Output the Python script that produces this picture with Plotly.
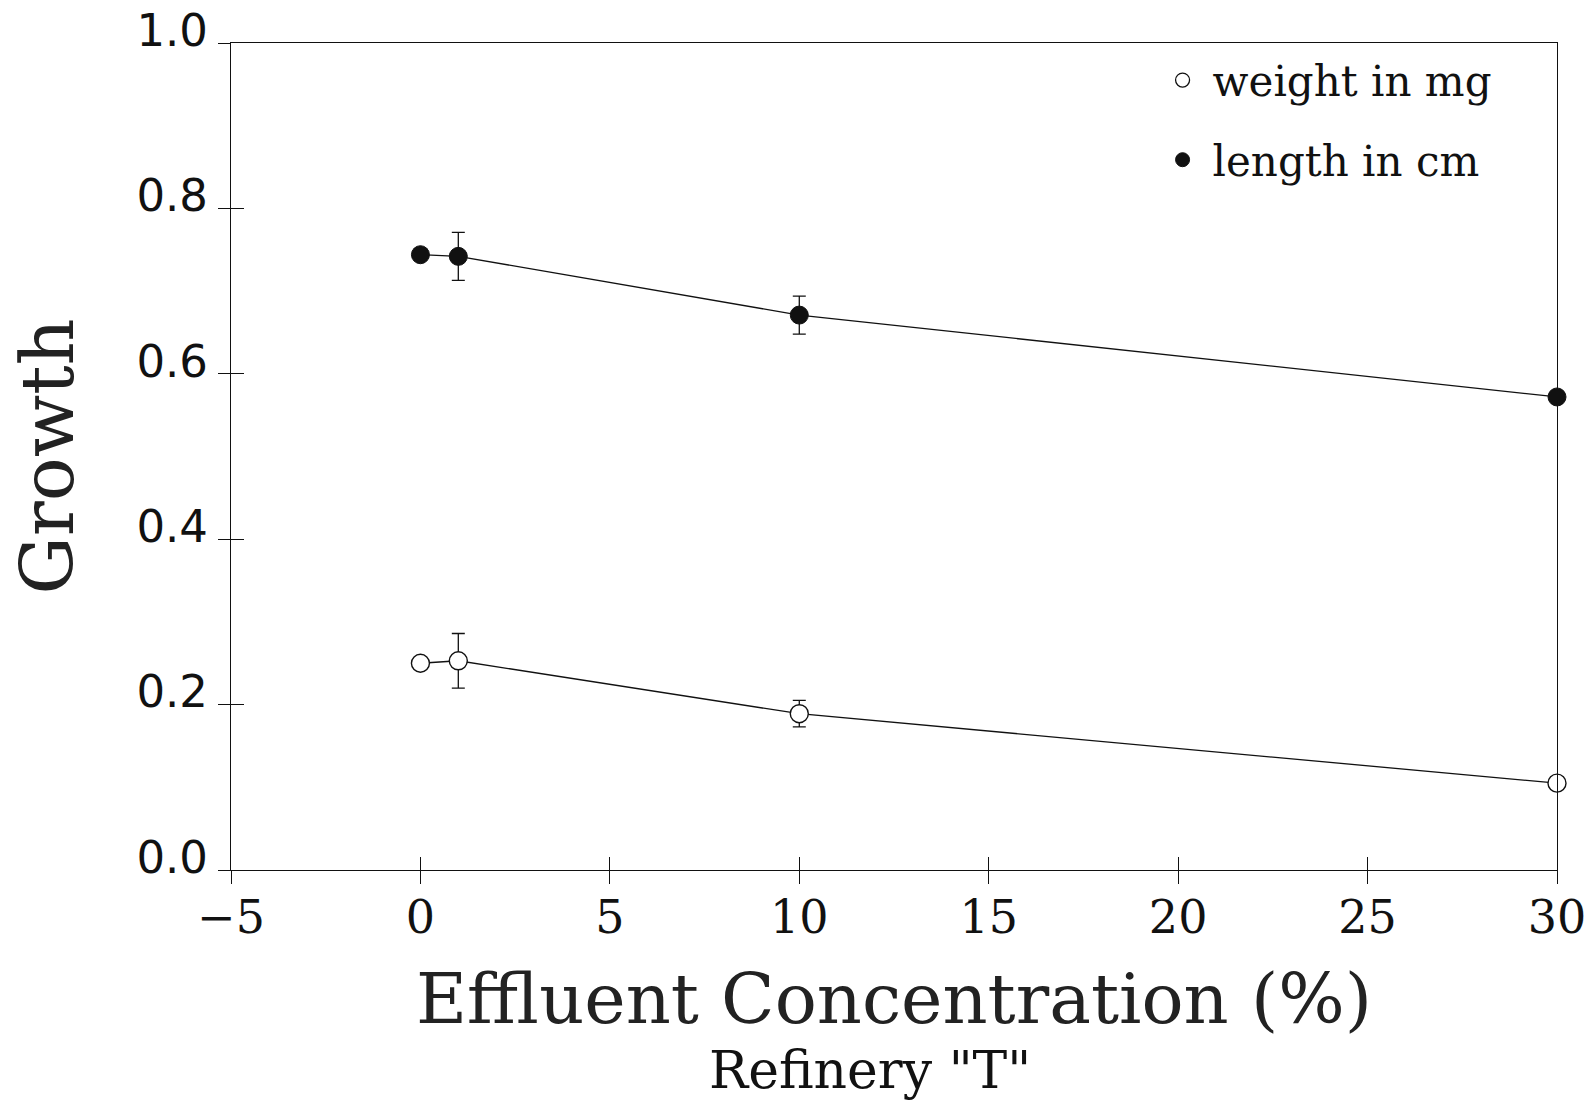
import plotly.graph_objects as go

# ---- data ----
conc = [0, 1, 10, 30]
length_cm = [0.744, 0.742, 0.671, 0.572]
length_err = [0.0, 0.029, 0.023, 0.0]
weight_mg = [0.250, 0.253, 0.189, 0.105]
weight_err = [0.0, 0.033, 0.016, 0.0]

x_ticks = [-5, 0, 5, 10, 15, 20, 25, 30]
y_ticks = [0.0, 0.2, 0.4, 0.6, 0.8, 1.0]

serif = "DejaVu Serif"
ink = "#111111"

# layout geometry (px)
TOP = 18              # paper top
PLOT_H = 827          # height of the framed plot area
PAPER_H = 852         # paper height (a little taller so the top tick label fits)
dom_top = PLOT_H / PAPER_H
label_lift = 13 / PLOT_H   # y tick labels sit slightly above their ticks in the reference
lab_lo = -label_lift
lab_hi = lab_lo + PAPER_H / PLOT_H

fig = go.Figure()

fig.add_trace(go.Scatter(
    x=conc, y=length_cm, mode="lines+markers", name="length in cm",
    line=dict(color=ink, width=1.3),
    marker=dict(symbol="circle", size=18, color=ink, line=dict(color=ink, width=1)),
    error_y=dict(type="data", array=length_err, visible=True, color=ink, thickness=1.3, width=6.5),
    showlegend=False, cliponaxis=False,
))
fig.add_trace(go.Scatter(
    x=conc, y=weight_mg, mode="lines+markers", name="weight in mg",
    line=dict(color=ink, width=1.3),
    marker=dict(symbol="circle", size=18, color="white", line=dict(color=ink, width=1.4)),
    error_y=dict(type="data", array=weight_err, visible=True, color=ink, thickness=1.3, width=6.5),
    showlegend=False, cliponaxis=False,
))

# legend entries
fig.add_trace(go.Scatter(
    x=[None], y=[None], mode="markers", name="weight in mg", legendgroup="w",
    marker=dict(symbol="circle", size=14, color="white", line=dict(color=ink, width=1.3)),
))
fig.add_trace(go.Scatter(
    x=[None], y=[None], mode="markers", name="length in cm", legendgroup="l",
    marker=dict(symbol="circle", size=14, color=ink, line=dict(color=ink, width=1)),
))

# helper axes: inner half of the crossing ticks, and the y tick labels
fig.add_trace(go.Scatter(x=[None], y=[None], xaxis="x2", yaxis="y2", showlegend=False, hoverinfo="skip"))
fig.add_trace(go.Scatter(x=[None], y=[None], xaxis="x", yaxis="y3", showlegend=False, hoverinfo="skip"))

fig.update_layout(
    width=1595, height=1102,
    margin=dict(l=231, r=38, t=TOP, b=1102 - TOP - PAPER_H, autoexpand=False),
    paper_bgcolor="white", plot_bgcolor="rgba(0,0,0,0)",
    showlegend=True,
    legend=dict(
        x=0.695, y=1 - (46.3 - TOP) / PAPER_H, xanchor="left", yanchor="top",
        font=dict(family=serif, size=42, color=ink),
        itemwidth=50,
        tracegroupgap=22, bgcolor="rgba(0,0,0,0)", borderwidth=0,
    ),
    xaxis=dict(
        range=[-5, 30], tickmode="array", tickvals=x_ticks, automargin=False,
        showgrid=False, zeroline=False,
        showline=True, linecolor=ink, linewidth=1.4, mirror=True,
        ticks="outside", ticklen=13, tickwidth=1.2, tickcolor=ink,
        ticklabelstandoff=-6,
        tickfont=dict(family=serif, size=46, color=ink),
        title=dict(text="Effluent Concentration (%)", standoff=30,
                   font=dict(family=serif, size=70, color="#222222")),
    ),
    yaxis=dict(
        domain=[0, dom_top],
        range=[0, 1.0], tickmode="array", tickvals=y_ticks, automargin=False,
        showgrid=False, zeroline=False,
        showline=True, linecolor=ink, linewidth=1.4, mirror=True,
        ticks="outside", ticklen=12, tickwidth=1.2, tickcolor=ink,
        showticklabels=False,
        title=dict(text="Growth", standoff=120,
                   font=dict(family=serif, size=73, color="#222222")),
    ),
    xaxis2=dict(
        overlaying="x", range=[-5, 30], tickmode="array", tickvals=x_ticks,
        showgrid=False, zeroline=False, showline=False, showticklabels=False,
        ticks="inside", ticklen=13, tickwidth=1.2, tickcolor=ink,
    ),
    yaxis2=dict(
        overlaying="y", side="left", range=[0, 1.0], tickmode="array", tickvals=y_ticks,
        showgrid=False, zeroline=False, showline=False, showticklabels=False,
        ticks="inside", ticklen=13, tickwidth=1.2, tickcolor=ink,
    ),
    yaxis3=dict(
        domain=[0, 1], anchor="x", side="left", range=[lab_lo, lab_hi],
        tickmode="array", tickvals=y_ticks, tickformat=".1f", automargin=False,
        showgrid=False, zeroline=False, showline=False, ticks="",
        ticklabelstandoff=22, ticklabeloverflow="allow",
        tickfont=dict(family="DejaVu Sans", size=45, color=ink),
    ),
    annotations=[dict(
        text='Refinery "T"', xref="paper", yref="paper", x=0.482,
        y=1 - (1070 - TOP) / PAPER_H,
        xanchor="center", yanchor="middle", showarrow=False,
        font=dict(family=serif, size=52, color=ink),
    )],
)

fig.write_html(
    "out.html",
    config={"displayModeBar": False},
    post_script="document.body.style.margin='0';document.body.style.overflow='hidden';",
)
